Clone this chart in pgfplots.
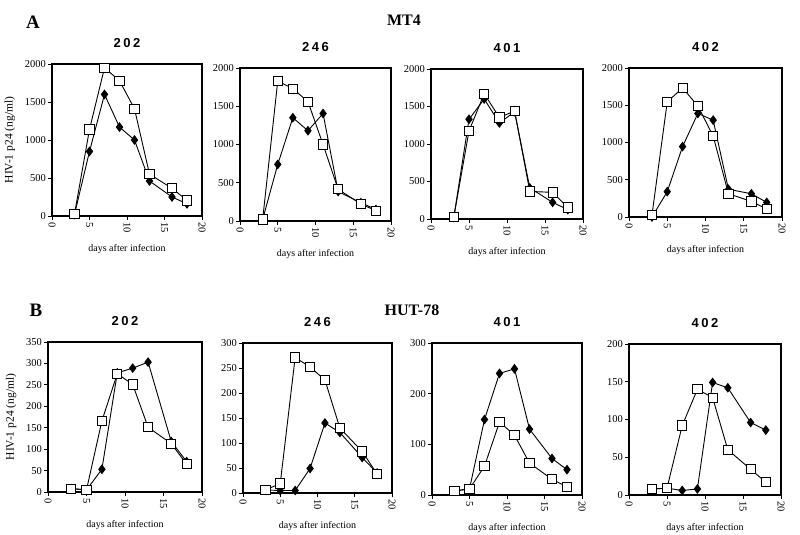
\documentclass[border=0pt]{standalone}
\usepackage{pgfplots}
\pgfplotsset{compat=1.18}
\usepackage{fontspec}
\setmainfont{Liberation Serif}
\newfontfamily\helsp[LetterSpace=20]{Liberation Sans}
\pgfplotsset{
  panel/.style={
    scale only axis,
    xmin=0, xmax=20, ymin=0,
    xtick={0,5,10,15,20},
    tick align=outside,
    xtick pos=bottom, ytick pos=left,
    axis line style={line width=1.1pt},
    major tick length=4pt,
    tick style={black, line width=0.8pt},
    /pgf/number format/assume math mode=true,
    /pgf/number format/1000 sep={},
    xticklabel style={rotate=-90, anchor=west, font=\fontsize{10.5}{10.5}\selectfont, inner sep=2pt},
    yticklabel style={font=\fontsize{10.5}{10.5}\selectfont, inner sep=2pt},
    title style={font=\helsp\bfseries\fontsize{13}{13}\selectfont, yshift=7pt},
    xlabel={days after infection},
    xlabel style={at={(axis description cs:0.5,0)}, anchor=center, yshift=-33pt, font=\fontsize{10}{10}\selectfont},
    clip=false,
  },
  dia/.style={black, line width=0.9pt, mark=diamond*, mark size=4.2pt, mark options={fill=black, solid}},
  sq/.style={black, line width=0.9pt, mark=square*, mark size=4.6pt, mark options={fill=white, line width=0.9pt}},
}
\begin{document}
\begin{tikzpicture}
\path[use as bounding box] (0pt,0pt) rectangle (800pt,535pt);
\node[font=\bfseries\fontsize{19}{19}\selectfont] at (33pt,513pt) {A};
\node[font=\bfseries\fontsize{16}{16}\selectfont] at (404pt,515pt) {MT4};
\node[font=\bfseries\fontsize{19}{19}\selectfont] at (36pt,225pt) {B};
\node[font=\bfseries\fontsize{16}{16}\selectfont] at (412pt,225pt) {HUT-78};

% MT4 202
\begin{axis}[panel, at={(52pt,319pt)}, anchor=south west, width=150pt, height=152pt,
  ymax=2000, ytick={0,500,1000,1500,2000}, title={202},
  ylabel={HIV-1 p24 (ng/ml)}, ylabel style={at={(axis description cs:-0.28,0.5)}, anchor=center, font=\fontsize{11.5}{11.5}\selectfont}]
\addplot[dia] coordinates {(3,20) (5,850) (7,1600) (9,1170) (11,1000) (13,460) (16,250) (18,160)};
\addplot[sq] coordinates {(3,25) (5,1140) (7,1950) (9,1780) (11,1410) (13,550) (16,365) (18,205)};
\end{axis}

% MT4 246
\begin{axis}[panel, at={(240pt,314pt)}, anchor=south west, width=151pt, height=153pt,
  ymax=2000, ytick={0,500,1000,1500,2000}, title={246}]
\addplot[dia] coordinates {(3,20) (5,740) (7,1350) (9,1180) (11,1405) (13,385) (16,240) (18,150)};
\addplot[sq] coordinates {(3,20) (5,1830) (7,1730) (9,1560) (11,1000) (13,415) (16,222) (18,135)};
\end{axis}

% MT4 401
\begin{axis}[panel, at={(431pt,316pt)}, anchor=south west, width=152pt, height=150pt,
  ymax=2000, ytick={0,500,1000,1500,2000}, title={401}]
\addplot[dia] coordinates {(3,20) (5,1330) (7,1600) (9,1280) (11,1430) (13,415) (16,222) (18,125)};
\addplot[sq] coordinates {(3,25) (5,1175) (7,1670) (9,1353) (11,1440) (13,368) (16,355) (18,155)};
\end{axis}

% MT4 402
\begin{axis}[panel, at={(629pt,318pt)}, anchor=south west, width=153pt, height=149pt,
  ymax=2000, ytick={0,500,1000,1500,2000}, title={402}]
\addplot[dia] coordinates {(3,0) (5,340) (7,945) (9,1390) (11,1300) (13,372) (16,312) (18,196)};
\addplot[sq] coordinates {(3,25) (5,1546) (7,1733) (9,1490) (11,1087) (13,312) (16,209) (18,107)};
\end{axis}

% HUT-78 202
\begin{axis}[panel, at={(48pt,43pt)}, anchor=south west, width=154pt, height=150pt,
  ymax=350, ytick={0,50,100,150,200,250,300,350}, title={202},
  ylabel={HIV-1 p24 (ng/ml)}, ylabel style={at={(axis description cs:-0.24,0.5)}, anchor=center, font=\fontsize{11.5}{11.5}\selectfont}]
\addplot[dia] coordinates {(3,8) (5,5) (7,53) (9,278) (11,289) (13,303) (16,118) (18,71)};
\addplot[sq] coordinates {(3,8) (5,5) (7,166) (9,276) (11,251) (13,151) (16,113) (18,65)};
\end{axis}

% HUT-78 246
\begin{axis}[panel, at={(243pt,42pt)}, anchor=south west, width=149pt, height=150pt,
  ymax=300, ytick={0,50,100,150,200,250,300}, title={246}]
\addplot[dia] coordinates {(3,6) (5,5) (7,5) (9,49) (11,140) (13,121) (16,71) (18,40)};
\addplot[sq] coordinates {(3,6) (5,19) (7,271) (9,252) (11,226) (13,130) (16,83) (18,38)};
\end{axis}

% HUT-78 401
\begin{axis}[panel, at={(432pt,40pt)}, anchor=south west, width=150pt, height=152pt,
  ymax=300, ytick={0,100,200,300}, title={401}]
\addplot[dia] coordinates {(3,8) (5,12) (7,149) (9,240) (11,249) (13,130) (16,72) (18,50)};
\addplot[sq] coordinates {(3,8) (5,12) (7,57) (9,144) (11,118) (13,63) (16,31) (18,16)};
\end{axis}

% HUT-78 402
\begin{axis}[panel, at={(629pt,40pt)}, anchor=south west, width=152pt, height=151pt,
  ymax=200, ytick={0,50,100,150,200}, title={402}]
\addplot[dia] coordinates {(3,8) (5,9) (7,6) (9,8) (11,149) (13,142) (16,96) (18,86)};
\addplot[sq] coordinates {(3,8) (5,9) (7,92) (9,140) (11,129) (13,60) (16,34) (18,17)};
\end{axis}
\end{tikzpicture}
\end{document}
